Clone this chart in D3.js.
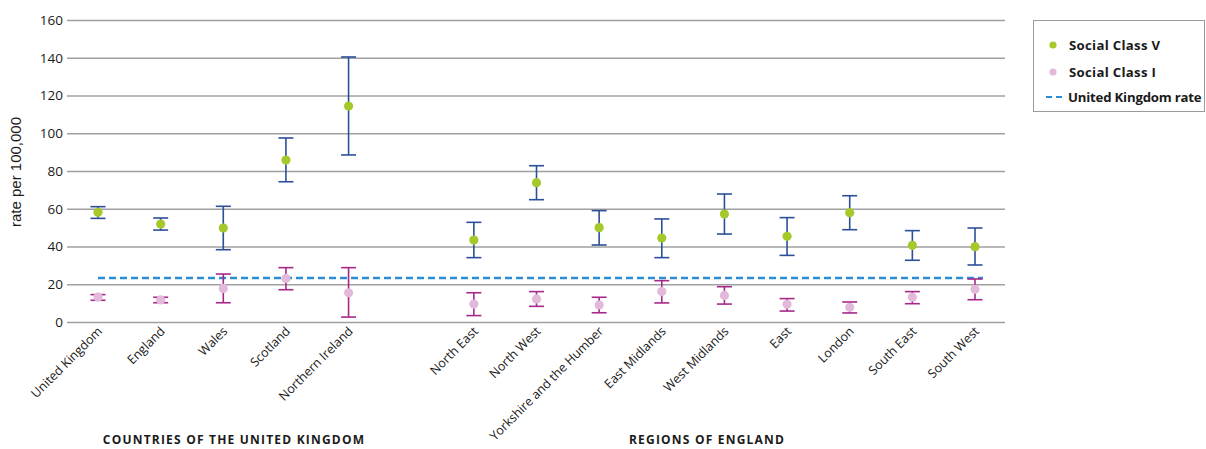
<!DOCTYPE html>
<html>
<head>
<meta charset="utf-8">
<script src="https://cdn.jsdelivr.net/npm/d3@7"></script>
<style>
  html, body { margin: 0; padding: 0; background: #fff; }
  svg { display: block; }
  text { font-family: "Open Sans", "Noto Sans", sans-serif; fill: #1a1a1a; }
</style>
</head>
<body>
<svg id="chart" width="1206" height="449"></svg>
<script>
// ---- data ----
const slots = ["United Kingdom","England","Wales","Scotland","Northern Ireland","",
  "North East","North West","Yorkshire and the Humber","East Midlands","West Midlands",
  "East","London","South East","South West"];
const categories = ["United Kingdom","England","Wales","Scotland","Northern Ireland",
  "North East","North West","Yorkshire and the Humber","East Midlands","West Midlands",
  "East","London","South East","South West"];
const classV      = [58.1, 51.9, 49.8, 85.8, 114.4, 43.4, 73.8, 50.0, 44.5, 57.2, 45.4, 57.9, 40.6, 39.9];
const classVLow   = [54.9, 48.7, 38.3, 74.3,  88.5, 34.1, 64.8, 40.8, 34.1, 46.6, 35.3, 48.9, 32.7, 30.2];
const classVHigh  = [61.1, 55.1, 61.3, 97.5, 140.4, 52.8, 82.8, 59.0, 54.6, 67.8, 55.3, 66.9, 48.4, 49.8];
const classI      = [13.2, 11.7, 17.8, 23.1, 15.5,  9.5, 12.2,  9.0, 16.1, 14.1,  9.4,  7.8, 13.1, 17.3];
const classILow   = [11.5, 10.2, 10.2, 17.1,  2.6,  3.4,  8.3,  4.9, 10.1,  9.5,  5.8,  4.8,  9.7, 11.8];
const classIHigh  = [14.5, 13.1, 25.4, 28.8, 28.8, 15.5, 16.1, 13.1, 21.9, 18.7, 12.4, 10.6, 16.1, 22.8];
const ukRate = 23.3;
const yTicks = [0, 20, 40, 60, 80, 100, 120, 140, 160];
const groupTitles = ["COUNTRIES OF THE UNITED KINGDOM", "REGIONS OF ENGLAND"];
const legendLabels = ["Social Class V", "Social Class I", "United Kingdom rate"];

// ---- styles ----
const C = {
  green: "#a5c92b", pink: "#e2b9da", blue: "#2c4f99", magenta: "#a6298a",
  dash: "#2a8dd6", grid: "#a0a0a0"
};

const svg = d3.select("#chart");
const plotL = 67, plotR = 1005, plotT = 20, plotB = 322;

const x = d3.scalePoint().domain(slots.map((d, i) => i)).range([98, 975]);
const y = d3.scaleLinear().domain([0, 160]).range([plotB, plotT]);
const xi = name => x(slots.indexOf(name));

// gridlines
const yAxis = d3.axisLeft(y).tickValues(yTicks).tickSize(-(plotR - plotL)).tickPadding(4);
const gy = svg.append("g").attr("transform", `translate(${plotL},0)`).call(yAxis);
gy.select(".domain").remove();
gy.selectAll(".tick line").attr("stroke", C.grid).attr("stroke-width", 1.3);
gy.selectAll(".tick text").style("font-size", "13.5px").attr("fill", "#1a1a1a")
  .style("font-family", '"Open Sans", sans-serif');

// y title
svg.append("text")
  .attr("transform", `translate(21,${(116 + 228) / 2}) rotate(-90)`)
  .attr("text-anchor", "middle")
  .style("font-family", '"Liberation Sans", Arial, sans-serif')
  .style("font-size", "15px")
  .text("rate per 100,000");

// x labels
const gx = svg.append("g");
categories.forEach(c => {
  gx.append("text")
    .attr("transform", `translate(${xi(c) + 5},${plotB + 10}) rotate(-45)`)
    .attr("text-anchor", "end")
    .style("font-size", "12.5px")
    .text(c);
});

// UK rate dashed line
svg.append("line")
  .attr("x1", xi(categories[0])).attr("x2", xi(categories[categories.length - 1]) + 8)
  .attr("y1", y(ukRate)).attr("y2", y(ukRate))
  .attr("stroke", C.dash).attr("stroke-width", 2.4).attr("stroke-dasharray", "7,4");

// error bars helper
const capW = 7.5;
function errorBars(lo, hi, color) {
  const g = svg.append("g").attr("stroke", color).attr("stroke-width", 1.6).attr("fill", "none");
  categories.forEach((c, i) => {
    const cx = xi(c);
    g.append("line").attr("x1", cx).attr("x2", cx).attr("y1", y(lo[i])).attr("y2", y(hi[i]));
    g.append("line").attr("x1", cx - capW).attr("x2", cx + capW).attr("y1", y(lo[i])).attr("y2", y(lo[i]));
    g.append("line").attr("x1", cx - capW).attr("x2", cx + capW).attr("y1", y(hi[i])).attr("y2", y(hi[i]));
  });
}
errorBars(classVLow, classVHigh, C.blue);
errorBars(classILow, classIHigh, C.magenta);

svg.append("g").selectAll("circle").data(classV).join("circle")
  .attr("cx", (d, i) => xi(categories[i])).attr("cy", d => y(d)).attr("r", 4.6).attr("fill", C.green);
svg.append("g").selectAll("circle").data(classI).join("circle")
  .attr("cx", (d, i) => xi(categories[i])).attr("cy", d => y(d)).attr("r", 4.6).attr("fill", C.pink);

// group titles
[[groupTitles[0], 234], [groupTitles[1], 707]].forEach(([t, cx]) => {
  svg.append("text").attr("x", cx).attr("y", 444).attr("text-anchor", "middle")
    .style("font-size", "12px").style("font-weight", "bold").style("letter-spacing", "1.2px")
    .text(t);
});

// legend
const lg = svg.append("g");
lg.append("rect").attr("x", 1033.5).attr("y", 20.5).attr("width", 171).attr("height", 91)
  .attr("fill", "#fff").attr("stroke", "#9a9a9a").attr("stroke-width", 1);
const ly = [45, 72, 97];
lg.append("circle").attr("cx", 1053).attr("cy", ly[0]).attr("r", 3.6).attr("fill", C.green);
lg.append("circle").attr("cx", 1053).attr("cy", ly[1]).attr("r", 3.6).attr("fill", C.pink);
lg.append("line").attr("x1", 1046).attr("x2", 1064).attr("y1", ly[2]).attr("y2", ly[2])
  .attr("stroke", C.dash).attr("stroke-width", 2.2).attr("stroke-dasharray", "6,4");
legendLabels.forEach((t, i) => {
  lg.append("text").attr("x", i < 2 ? 1069 : 1068).attr("y", ly[i]).attr("dy", "0.35em")
    .style("font-size", "13.2px").style("font-weight", "bold")
    .style("letter-spacing", i < 2 ? "0.3px" : "-0.2px").text(t);
});
</script>
</body>
</html>
